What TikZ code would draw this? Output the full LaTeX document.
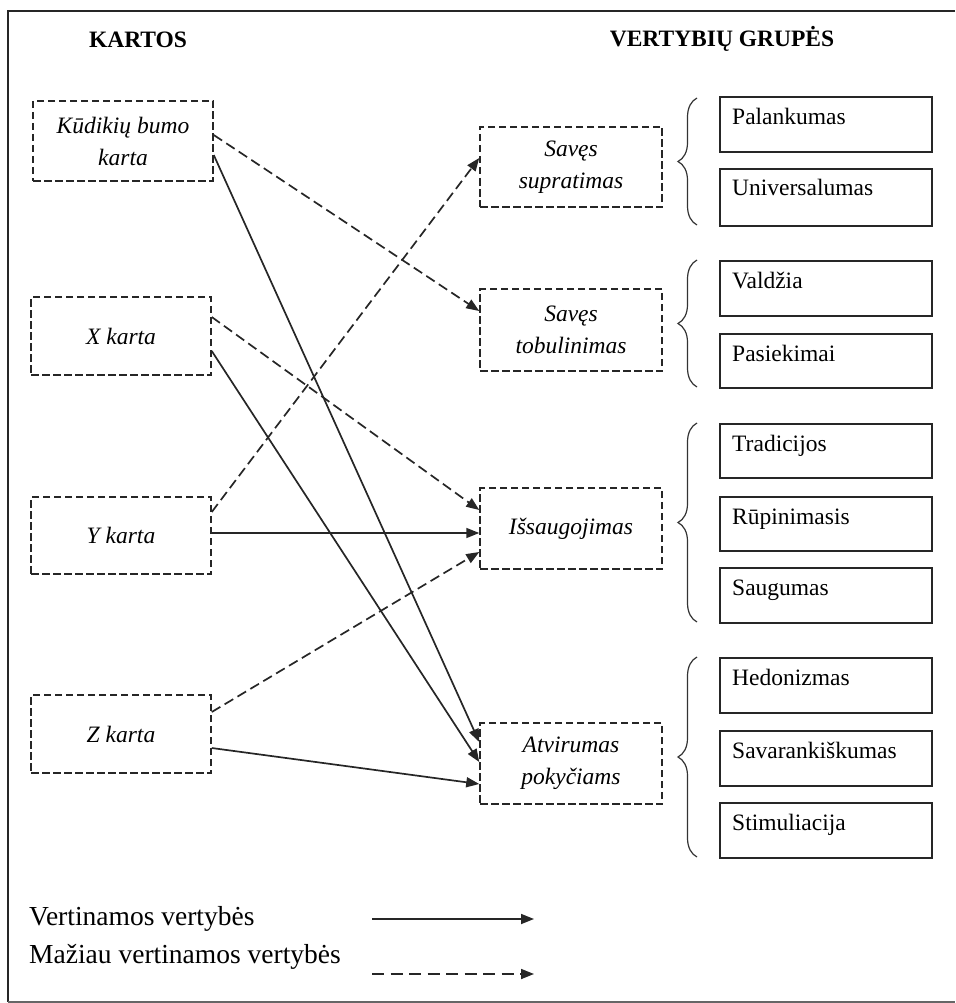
\documentclass[tikz,border=0pt]{standalone}
\usepackage{fontspec}
\setmainfont{Liberation Serif}
\usetikzlibrary{arrows.meta,decorations.pathreplacing}
\begin{document}
\begin{tikzpicture}[x=1pt,y=-1pt,
  ink/.style={draw=black!85},
  gen/.style={ink, line width=1.5pt, dash pattern=on 7.5pt off 3.5pt,
    minimum width=180pt, minimum height=79pt, inner sep=0pt, align=center,
    font=\fontsize{23.5}{32}\selectfont\itshape},
  grp/.style={gen, minimum width=182pt, minimum height=81pt},
  valbox/.style={ink, line width=2pt, minimum width=212pt, minimum height=55pt, inner sep=0pt},
  valtext/.style={anchor=base west, inner sep=0pt, font=\fontsize{23.5}{28}\selectfont},
  head/.style={anchor=base, inner sep=0pt, font=\fontsize{23.5}{28}\selectfont\bfseries},
  legtext/.style={anchor=base west, inner sep=0pt, font=\fontsize{27.5}{33}\selectfont},
  conn/.style={draw=black!85, line width=1.7pt, -{Triangle[length=13pt,width=10pt]}},
  weak/.style={conn, dash pattern=on 10pt off 5pt},
  legweak/.style={conn, dash pattern=on 12pt off 6.5pt},
  grpbrace/.style={draw=black!80, line width=1.2pt, decorate, decoration={brace, amplitude=19pt}}
]
\useasboundingbox (0,0) rectangle (955,1003);

% outer frame (open on the right)
\draw[black!85, line width=2pt] (955,11.5) -- (7.5,11.5) -- (7.5,1002);
\draw[black!60, line width=2pt] (7.5,1002) -- (955,1002);

% column headings
\node[head] (kartos) at (138,48) {KARTOS};
\node[head] (vgrupes) at (722,47) {VERTYBIŲ GRUPĖS};

% generations
\node[gen, minimum height=80pt] (kud) at (123,141) {Kūdikių bumo\\karta};
\node[gen, minimum height=78pt] (xk) at (121,336) {X karta};
\node[gen, minimum height=77pt] (yk) at (121,535.5) {Y karta};
\node[gen, minimum height=78pt] (zk) at (121,734) {Z karta};

% value groups
\node[grp, minimum height=80pt] (sup) at (571,167) {Savęs\\supratimas};
\node[grp, minimum height=82pt] (tob) at (571,330) {Savęs\\tobulinimas};
\node[grp] (isa) at (571,528.5) {Išsaugojimas};
\node[grp] (atv) at (571,763.5) {Atvirumas\\pokyčiams};

% values
\node[valbox] (pal) at (826,125) {};
\node[valtext] (palt) at ([xshift=13pt,yshift=-28pt]pal.north west) {Palankumas};
\node[valbox, minimum height=57pt] (uni) at (826,197.5) {};
\node[valtext] (unit) at ([xshift=13pt,yshift=-28pt]uni.north west) {Universalumas};
\node[valbox] (val) at (826,288.5) {};
\node[valtext] (valt) at ([xshift=13pt,yshift=-28pt]val.north west) {Valdžia};
\node[valbox, minimum height=54pt] (pas) at (826,361) {};
\node[valtext] (past) at ([xshift=13pt,yshift=-28pt]pas.north west) {Pasiekimai};
\node[valbox, minimum height=54pt] (tra) at (826,451) {};
\node[valtext] (trat) at ([xshift=13pt,yshift=-28pt]tra.north west) {Tradicijos};
\node[valbox, minimum height=54pt] (rup) at (826,524) {};
\node[valtext] (rupt) at ([xshift=13pt,yshift=-28pt]rup.north west) {Rūpinimasis};
\node[valbox] (sau) at (826,595.5) {};
\node[valtext] (saut) at ([xshift=13pt,yshift=-28pt]sau.north west) {Saugumas};
\node[valbox] (hed) at (826,685.5) {};
\node[valtext] (hedt) at ([xshift=13pt,yshift=-28pt]hed.north west) {Hedonizmas};
\node[valbox] (sav) at (826,758.5) {};
\node[valtext] (savt) at ([xshift=13pt,yshift=-28pt]sav.north west) {Savarankiškumas};
\node[valbox] (sti) at (826,830.5) {};
\node[valtext] (stit) at ([xshift=13pt,yshift=-28pt]sti.north west) {Stimuliacija};

% braces grouping the values
\draw[grpbrace] (697,225) -- (697,98);
\draw[grpbrace] (697,387) -- (697,260);
\draw[grpbrace] (697,622) -- (697,423);
\draw[grpbrace] (697,857) -- (697,657);

% links from generations to value groups
\draw[weak] ([yshift=6pt]kud.east) -- ([yshift=19pt]tob.west);
\draw[conn] ([yshift=-14pt]kud.east) -- ([yshift=21.5pt]atv.west);
\draw[weak] ([yshift=19pt]xk.east) -- ([yshift=18.5pt]isa.west);
\draw[conn] ([yshift=-15pt]xk.east) -- ([yshift=1.5pt]atv.west);
\draw[weak] ([yshift=23.5pt]yk.east) -- ([yshift=9pt]sup.west);
\draw[conn] ([yshift=2.5pt]yk.east) -- ([yshift=-4.5pt]isa.west);
\draw[weak] ([yshift=22pt]zk.east) -- ([yshift=-23.5pt]isa.west);
\draw[conn] ([yshift=-14pt]zk.east) -- ([yshift=-20.5pt]atv.west);

% legend
\node[legtext] (leg1) at (29,925) {Vertinamos vertybės};
\node[legtext] (leg2) at (29,963) {Mažiau vertinamos vertybės};
\coordinate (l1a) at (372,919);
\coordinate (l1b) at (534,919);
\coordinate (l2a) at (372,974);
\coordinate (l2b) at (534,974);
\draw[conn] (l1a) -- (l1b);
\draw[legweak] (l2a) -- (l2b);
\end{tikzpicture}
\end{document}
